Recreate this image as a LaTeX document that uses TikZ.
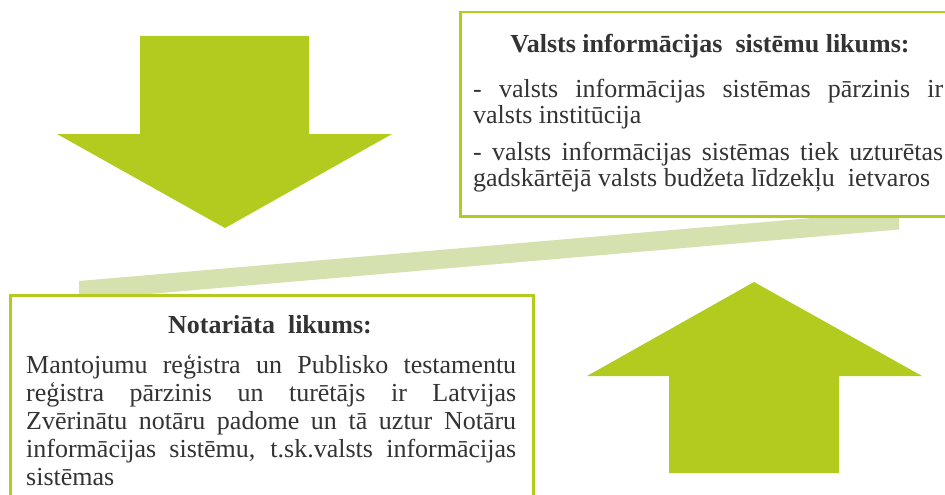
\documentclass[tikz,border=0pt]{standalone}
\usepackage{fontspec}
\setmainfont{Liberation Serif}
\definecolor{arrowgreen}{HTML}{B2CB1E}
\definecolor{bandgreen}{HTML}{D5E1AE}
\definecolor{txt}{HTML}{333333}
\begin{document}
\begin{tikzpicture}[x=1pt,y=-1pt,
  lawbox/.style={draw=arrowgreen, line width=2.5pt, fill=white, rectangle, inner sep=0pt, anchor=north west},
  titletext/.style={anchor=base, inner sep=0pt, text=txt, font=\fontsize{26}{26.5}\selectfont\bfseries},
  bodytext/.style={anchor=base west, inner sep=0pt, text=txt, align=justify}
]
\useasboundingbox (0,0) rectangle (945,495);
\clip (0,0) rectangle (945,495);
% light diagonal band
\fill[bandgreen] (79,281) -- (899,210.5) -- (899,229.5) -- (79,300) -- cycle;
% boxes
\node[lawbox, minimum width=501pt, minimum height=204pt] (topbox) at (459,11) {};
\node[lawbox, minimum width=523pt, minimum height=210pt] (botbox) at (9,294) {};
% arrows
\fill[arrowgreen] (140,36) -- (309,36) -- (309,134) -- (392,134) -- (225,228) -- (57,134) -- (140,134) -- cycle;
\fill[arrowgreen] (754,282) -- (922,376) -- (839,376) -- (839,473) -- (669,473) -- (669,376) -- (587,376) -- cycle;
% top box text
\node[titletext] (toptitle) at (710,53) {Valsts informācijas~ sistēmu likums:};
\node[bodytext, text width=470pt, font=\fontsize{26}{26.5}\selectfont] (toppara1) at (473,97)
  {- valsts informācijas sistēmas pārzinis ir\linebreak valsts institūcija};
\node[bodytext, text width=470pt, font=\fontsize{26}{26.5}\selectfont] (toppara2) at (473,160)
  {- valsts informācijas sistēmas tiek uzturētas\linebreak gadskārtējā valsts budžeta līdzekļu~ ietvaros};
% bottom box text
\node[titletext] (bottitle) at (270,333) {Notariāta~ likums:};
\node[bodytext, text width=490pt, font=\fontsize{26}{28}\selectfont] (botpara) at (26,373)
  {Mantojumu reģistra un Publisko testamentu\linebreak reģistra pārzinis un turētājs ir Latvijas\linebreak Zvērinātu notāru padome un tā uztur Notāru\linebreak informācijas sistēmu, t.sk.valsts informācijas\linebreak sistēmas};
\end{tikzpicture}
\end{document}
